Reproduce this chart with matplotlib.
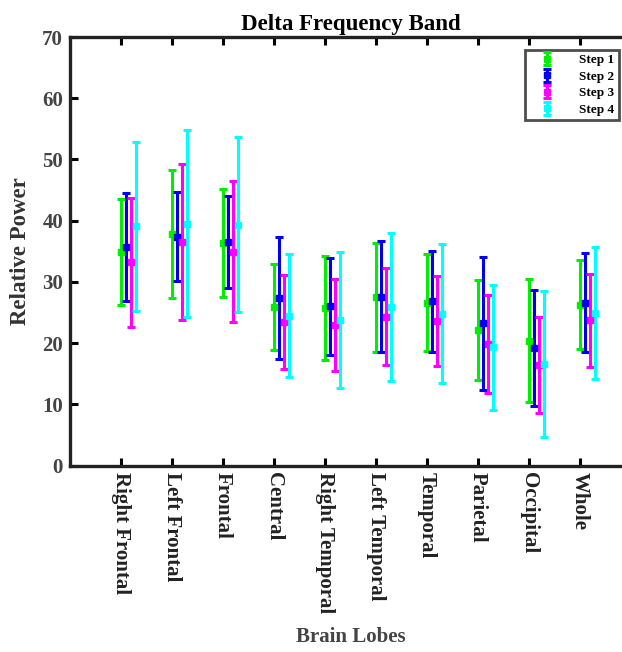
import numpy as np
import matplotlib
matplotlib.use('Agg')
from matplotlib import pyplot as plt

plt.rcParams['font.family'] = ['Liberation Serif', 'DejaVu Serif']
plt.rcParams['font.weight'] = 'bold'

lobes = ['Right Frontal', 'Left Frontal', 'Frontal', 'Central', 'Right Temporal',
         'Left Temporal', 'Temporal', 'Parietal', 'Occipital', 'Whole']

# mean values
step1_mean = [34.9, 37.8, 36.3, 25.9, 25.7, 27.5, 26.6, 22.1, 20.4, 26.3]
step2_mean = [35.7, 37.4, 36.5, 27.4, 26.0, 27.6, 26.8, 23.2, 19.2, 26.6]
step3_mean = [33.2, 36.5, 34.9, 23.4, 23.0, 24.3, 23.6, 19.9, 16.4, 23.7]
step4_mean = [39.1, 39.5, 39.3, 24.5, 23.8, 25.9, 24.8, 19.3, 16.6, 24.9]

# error bar half-lengths
step1_err = [8.6, 10.5, 8.8, 7.0, 8.5, 8.9, 7.9, 8.2, 10.0, 7.3]
step2_err = [8.8, 7.2, 7.5, 10.0, 7.9, 9.0, 8.2, 10.8, 9.5, 8.1]
step3_err = [10.5, 12.8, 11.5, 7.7, 7.5, 7.9, 7.3, 8.0, 7.8, 7.6]
step4_err = [13.8, 15.3, 14.3, 10.0, 11.1, 12.1, 11.4, 10.2, 11.9, 10.8]

steps = ['Step 1', 'Step 2', 'Step 3', 'Step 4']
means = [step1_mean, step2_mean, step3_mean, step4_mean]
errs = [step1_err, step2_err, step3_err, step4_err]
colors = ['#00ee00', '#0000ee', '#ff00ff', '#00ffff']

fig = plt.figure(figsize=(6.22, 6.52), dpi=100)
ax = fig.add_axes([70/622, 1-465.5/652, 561/622, (465.5-37)/652])

x = np.arange(1, len(lobes) + 1)
for i in range(4):
    ax.errorbar(x + 0.1*i, means[i], yerr=errs[i], fmt='s', color=colors[i],
                ms=5, elinewidth=2.2, capsize=3, capthick=2.2, label=steps[i])

ax.set_xlim(0, 11)
ax.set_ylim(0, 70)
ax.set_xticks(x)
ax.set_xticklabels(lobes, rotation=-90, fontsize=15, color='#222222')
ax.set_yticks(range(0, 71, 10))
ax.tick_params(axis='y', labelsize=15, labelcolor='#444444')
ax.tick_params(direction='in', length=6, width=2.2, top=True, right=True, pad=5)
for s in ax.spines.values():
    s.set_linewidth(2.4)
    s.set_color('#222222')

ax.set_title('Delta Frequency Band', fontsize=16.5, fontweight='bold', pad=5)
ax.set_ylabel('Relative Power', fontsize=16.5, fontweight='bold', color='#333333', labelpad=8)
ax.set_xlabel('Brain Lobes', fontsize=15, fontweight='bold', color='#444444')
ax.xaxis.set_label_coords(0.5, -0.378)

leg = ax.legend(loc='upper right', bbox_to_anchor=(618.5/622, 1-49.5/652),
                bbox_transform=fig.transFigure, fontsize=9.5, frameon=True,
                fancybox=False, borderpad=0.35, labelspacing=0.32,
                handlelength=2.6, handletextpad=1.1, borderaxespad=0)
leg.get_frame().set_edgecolor('#222222')
leg.get_frame().set_linewidth(2)

fig.savefig('out.png', dpi=100)
